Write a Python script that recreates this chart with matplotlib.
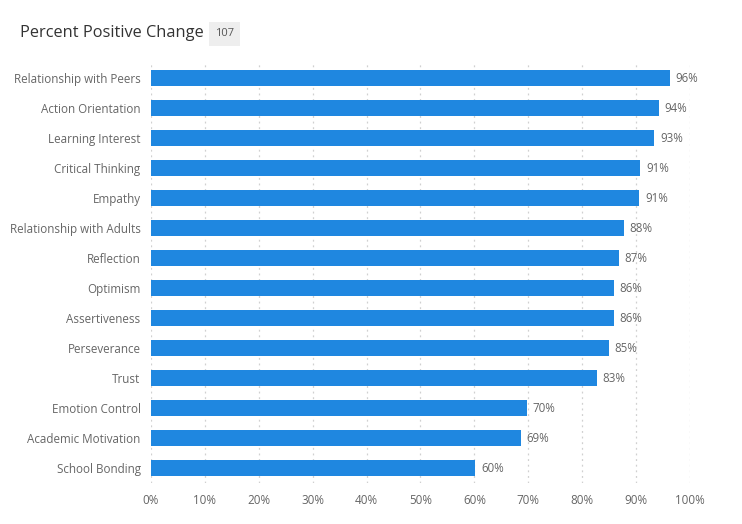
import matplotlib
matplotlib.use("Agg")
import matplotlib.pyplot as plt

# data (top to bottom)
categories = [
    "Relationship with Peers",
    "Action Orientation",
    "Learning Interest",
    "Critical Thinking",
    "Empathy",
    "Relationship with Adults",
    "Reflection",
    "Optimism",
    "Assertiveness",
    "Perseverance",
    "Trust",
    "Emotion Control",
    "Academic Motivation",
    "School Bonding",
]
values = [96.3, 94.3, 93.4, 90.8, 90.6, 87.8, 86.8, 85.9, 85.9, 85.0, 82.7, 69.8, 68.6, 60.2]
x_ticks = list(range(0, 101, 10))
title = "Percent Positive Change"
count_badge = "107"

bar_color = "#1f87e0"
text_gray = "#666666"

plt.rcParams["font.family"] = ["Open Sans", "DejaVu Sans"]

fig = plt.figure(figsize=(7.42, 5.24), dpi=100)
ax = fig.add_axes([151 / 742, 1 - 483 / 524, (690 - 151) / 742, 420 / 524])

positions = range(len(values))
ax.barh(positions, values, height=0.53, color=bar_color, zorder=3)

for pos, val in zip(positions, values):
    ax.annotate(
        f"{round(val):d}%",
        xy=(val, pos),
        xytext=(4, 0),
        textcoords="offset points",
        va="center",
        ha="left",
        fontsize=8.3,
        color=text_gray,
    )

ax.set_xlim(0, 100)
ax.set_ylim(len(values) - 0.5, -0.5)
ax.set_yticks(list(positions))
ax.set_yticklabels(categories)
ax.set_xticks(x_ticks)
ax.set_xticklabels([f"{t}%" for t in x_ticks])
ax.tick_params(axis="both", length=0, labelsize=8.4, colors=text_gray)
ax.tick_params(axis="y", pad=7.5)
ax.tick_params(axis="x", pad=8)

ax.grid(axis="x", linestyle=(0, (1.5, 3)), color="#d0d0d0", linewidth=0.9, zorder=0)
ax.grid(axis="y", visible=False)
for spine in ax.spines.values():
    spine.set_visible(False)

fig.text(20 / 742, 1 - 33 / 524, title, fontsize=11.8, color="#333333", va="center", ha="left")
fig.text(
    215 / 742,
    1 - 34 / 524,
    count_badge,
    fontsize=8,
    color="#555555",
    va="center",
    ha="left",
    bbox=dict(boxstyle="square,pad=0.55", facecolor="#eeeeee", edgecolor="none"),
)

fig.savefig("out.png", dpi=100)
